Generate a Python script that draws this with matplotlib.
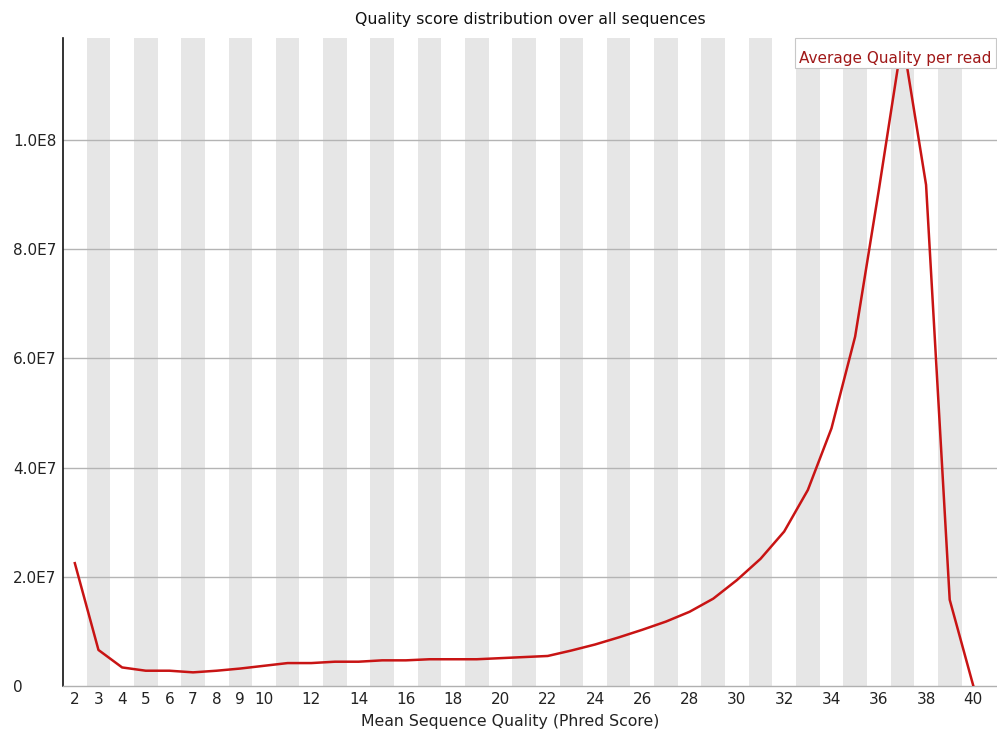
import matplotlib
matplotlib.use("Agg")
import matplotlib.pyplot as plt
from matplotlib.patches import Rectangle

# Mean sequence quality (Phred) and read counts
quality = list(range(2, 41))
counts = [
    2.25e7, 6.6e6, 3.4e6, 2.8e6, 2.8e6, 2.5e6, 2.8e6, 3.2e6, 3.7e6, 4.2e6,
    4.2e6, 4.45e6, 4.45e6, 4.7e6, 4.7e6, 4.9e6, 4.9e6, 4.9e6, 5.1e6, 5.3e6,
    5.5e6, 6.5e6, 7.6e6, 8.9e6, 1.03e7, 1.18e7, 1.36e7, 1.6e7, 1.94e7, 2.33e7,
    2.83e7, 3.59e7, 4.72e7, 6.4e7, 9.08e7, 1.187e8, 9.18e7, 1.58e7, 0.0,
]
xtick_values = [2, 3, 4, 5, 6, 7, 8, 9, 10] + list(range(12, 41, 2))
ytick_values = [0, 2e7, 4e7, 6e7, 8e7, 1e8]
ytick_labels = ["0", "2.0E7", "4.0E7", "6.0E7", "8.0E7", "1.0E8"]

plt.rcParams['font.family'] = ['DejaVu Sans']

fig = plt.figure(figsize=(9.97, 7.33), dpi=100)
ax = fig.add_axes([63 / 997, 47 / 733, 934 / 997, 648 / 733])

# alternating column shading
for q in quality:
    if q % 2 == 1:
        ax.axvspan(q - 0.5, q + 0.5, color='#e6e6e6', lw=0, zorder=0)

for v in ytick_values[1:]:
    ax.axhline(v, color='#b4b4b4', lw=1.0, zorder=1)

ax.plot(quality, counts, color='#c81414', lw=1.8, zorder=3)

ax.set_xlim(1.5, 41.0)
ax.set_ylim(0, max(counts))

ax.set_xticks(xtick_values)
ax.set_xticklabels([str(v) for v in xtick_values], fontsize=11, color='#222222')
ax.set_yticks(ytick_values)
ax.set_yticklabels(ytick_labels, fontsize=11, color='#222222', ha='left')
ax.tick_params(axis='both', length=0)
ax.tick_params(axis='x', pad=4)
ax.tick_params(axis='y', pad=36)

for s in ['top', 'right']:
    ax.spines[s].set_visible(False)
ax.spines['left'].set_color('#111111')
ax.spines['left'].set_linewidth(1.2)
ax.spines['bottom'].set_color('#b0b0b0')
ax.spines['bottom'].set_linewidth(1.0)

ax.set_title("Quality score distribution over all sequences", fontsize=11.3,
             color='#111111', pad=10)
ax.set_xlabel("Mean Sequence Quality (Phred Score)", fontsize=11.3,
              color='#222222')
ax.xaxis.set_label_coords(0.4786, -0.043)

# legend box in the top right corner
ax.add_patch(Rectangle((0.7837, 0.9537), 0.2152, 0.0463, transform=ax.transAxes,
                       facecolor='white', edgecolor='#c8c8c8', lw=0.8,
                       zorder=5, clip_on=False))
ax.text(0.788, 0.969, "Average Quality per read", transform=ax.transAxes,
        ha='left', va='center', fontsize=11, color='#a01818', zorder=6)

fig.savefig("out.png", dpi=100)
